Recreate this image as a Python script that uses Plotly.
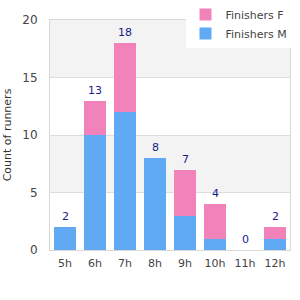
import plotly.graph_objects as go

categories = ["5h", "6h", "7h", "8h", "9h", "10h", "11h", "12h"]
finishers_m = [2, 10, 12, 8, 3, 1, 0, 1]
finishers_f = [0, 3, 6, 0, 4, 3, 0, 1]
totals = [m + f for m, f in zip(finishers_m, finishers_f)]
y_ticks = [0, 5, 10, 15, 20]

fig = go.Figure()
fig.add_trace(go.Bar(x=categories, y=finishers_m, name="Finishers M",
                     marker=dict(color="#60a9f3", line=dict(width=0))))
fig.add_trace(go.Bar(x=categories, y=finishers_f, name="Finishers F",
                     marker=dict(color="#f283ba", line=dict(width=0))))

for c, t in zip(categories, totals):
    fig.add_annotation(x=c, y=t, text=str(t), showarrow=False, yanchor="bottom", yshift=2,
                       font=dict(color="#1a1a8a", size=11, family="DejaVu Sans"))

# alternating bands
for i in range(len(y_ticks) - 1):
    if i % 2 == 1:
        fig.add_shape(type="rect", xref="paper", yref="y", x0=0, x1=1,
                      y0=y_ticks[i], y1=y_ticks[i + 1], fillcolor="#f3f3f3",
                      line=dict(width=0), layer="below")

fig.update_layout(
    width=300, height=300,
    margin=dict(l=50, r=10, t=20, b=50, autoexpand=False),
    barmode="stack", bargap=0.27,
    plot_bgcolor="white", paper_bgcolor="white",
    font=dict(family="DejaVu Sans", size=11, color="#444"),
    legend=dict(x=0.975, y=1.0, xref="container", yref="container", xanchor="right", yanchor="top",
                traceorder="reversed", bgcolor="white", font=dict(size=11, color="#444"),
                itemsizing="constant", tracegroupgap=0, borderwidth=0, itemwidth=30),
    xaxis=dict(showline=True, linecolor="#d8d8d8", mirror=True, ticks="", showgrid=False,
               tickangle=0, ticklabelstandoff=3, tickfont=dict(size=11, color="#444")),
    yaxis=dict(range=[0, 20], tickvals=y_ticks, showline=True, linecolor="#d8d8d8", mirror=True,
               gridcolor="#dddddd", zeroline=False, ticks="", ticklabelstandoff=9,
               title=dict(text="Count of runners", font=dict(size=11, color="#333"), standoff=8),
               tickfont=dict(size=12, color="#444")),
)

fig.write_html("out.html")
